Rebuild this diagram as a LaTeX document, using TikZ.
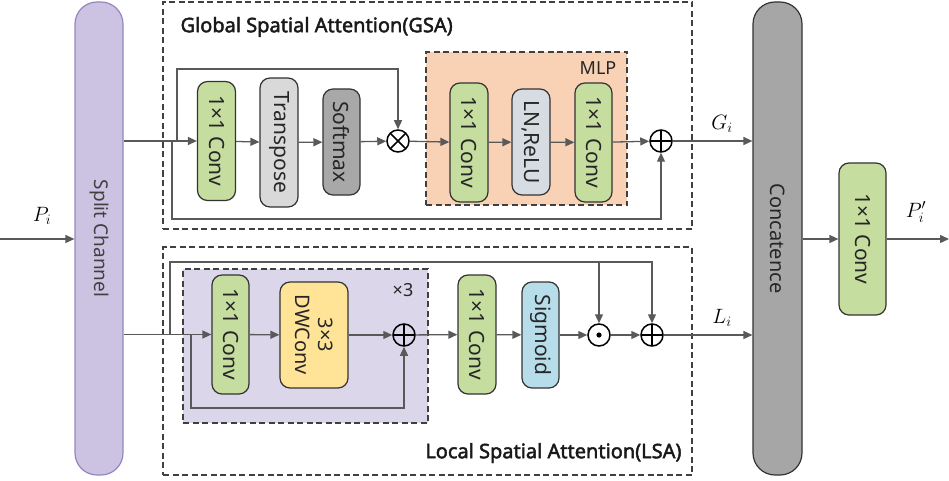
\documentclass[tikz,border=0pt]{standalone}
\usepackage{fontspec}
\setmainfont{Noto Sans}[AutoFakeBold=2.2]
\usetikzlibrary{arrows.meta}
\definecolor{linec}{HTML}{595959}
\definecolor{edgec}{HTML}{333333}
\definecolor{convg}{HTML}{C6DDA0}
\definecolor{splitp}{HTML}{CCC2E2}
\definecolor{splitb}{HTML}{9686BF}
\definecolor{concg}{HTML}{A6A6A6}
\definecolor{transg}{HTML}{D9D9D9}
\definecolor{softg}{HTML}{A8A8A8}
\definecolor{lnrelu}{HTML}{D7DCE3}
\definecolor{mlpbg}{HTML}{F9D2B5}
\definecolor{repbg}{HTML}{DCD6EA}
\definecolor{dwy}{HTML}{FFE498}
\definecolor{sigb}{HTML}{B8DDEA}
\begin{document}
\begin{tikzpicture}[x=1pt,y=-1pt,
  arr/.style={draw=linec, line width=1.3pt, -{Triangle[length=9pt,width=8pt]}},
  wire/.style={draw=linec, line width=1.3pt},
  blk/.style={rotate=-90, draw=edgec, line width=1.2pt, rounded corners=10pt,
    inner sep=0pt, align=center, text=black!85, font=\fontsize{21}{24}\selectfont},
  conv/.style={blk, fill=convg, minimum width=119pt, minimum height=38pt},
  frame/.style={draw=black!75, line width=1.1pt, dash pattern=on 6pt off 3.5pt,
    inner sep=0pt},
  opc/.style={circle, draw=black, line width=1.5pt, minimum size=22pt, inner sep=0pt},
  oplus/.style={opc, path picture={\draw[line width=1.5pt]
    (path picture bounding box.north) -- (path picture bounding box.south)
    (path picture bounding box.west) -- (path picture bounding box.east);}},
  otimes/.style={opc, path picture={\draw[line width=1.5pt]
    (path picture bounding box.center) +(45:12pt) -- +(225:12pt)
    (path picture bounding box.center) +(135:12pt) -- +(315:12pt);}},
  odot/.style={opc, path picture={\fill
    (path picture bounding box.center) circle (2.6pt);}},
  mathlbl/.style={font=\fontsize{21}{23}\selectfont},
  title/.style={font=\bfseries\fontsize{20}{22}\selectfont, text=black!90},
]
\useasboundingbox (0,0) rectangle (949,481);

% dashed group frames and shaded sub-blocks
\node[frame, minimum width=529pt, minimum height=227pt] (gsa) at (427.5,115.5) {};
\node[frame, minimum width=529pt, minimum height=228pt] (lsa) at (427.5,361) {};
\node[frame, fill=mlpbg, minimum width=201pt, minimum height=153pt] (mlp) at (526.5,128.5) {};
\node[frame, fill=repbg, minimum width=245pt, minimum height=154pt] (rep) at (305.5,346) {};

\node[title, anchor=west] (gsat) at (177,27) {Global Spatial Attention(GSA)};
\node[title, anchor=east] (lsat) at (685,453) {Local Spatial Attention(LSA)};
\node[font=\fontsize{18}{20}\selectfont, text=black!85] (mlpt) at (598,68) {MLP};
\node[font=\fontsize{18}{20}\selectfont, text=black!85] (rept) at (403,290) {×3};

% big split / concat columns
\node[rotate=-90, fill=splitp, draw=splitb, line width=1.2pt, rounded corners=22pt,
  minimum width=473pt, minimum height=48pt, inner sep=0pt, text=black!75,
  font=\fontsize{19}{22}\selectfont] (split) at (99,238.5) {Split Channel};
\node[rotate=-90, fill=concg, draw=edgec, line width=1.2pt, rounded corners=22pt,
  minimum width=473pt, minimum height=49pt, inner sep=0pt, text=black!85,
  font=\fontsize{20}{22}\selectfont] (concat) at (777.5,238.5) {Concatence};

% global branch
\node[conv] (g1) at (216.5,141) {1×1 Conv};
\node[blk, fill=transg, minimum width=129pt, minimum height=38pt] (tr) at (279,142.5) {Transpose};
\node[blk, fill=softg, minimum width=106pt, minimum height=37pt] (sm) at (341.5,142) {Softmax};
\node[otimes] (mul) at (398,141) {};
\node[conv] (m1) at (469,142.5) {1×1 Conv};
\node[blk, fill=lnrelu, minimum width=106pt, minimum height=38pt] (lnr) at (531,142) {LN,ReLU};
\node[conv, minimum height=37pt] (m2) at (593.5,142.5) {1×1 Conv};
\node[oplus] (addg) at (661,141) {};

% local branch
\node[conv, minimum height=37pt] (l1) at (230.5,334.5) {1×1 Conv};
\node[blk, fill=dwy, minimum width=106pt, minimum height=68pt,
  font=\fontsize{20}{23}\selectfont] (dw) at (314,335) {3×3\\DWConv};
\node[oplus] (addr) at (404,335) {};
\node[conv] (l2) at (477,334.5) {1×1 Conv};
\node[blk, fill=sigb, minimum width=106pt, minimum height=37pt] (sg) at (540.5,335) {Sigmoid};
\node[odot] (mulm) at (599,335) {};
\node[oplus] (addl) at (652,335) {};

% output head
\node[conv, minimum width=152pt, minimum height=47pt] (oc) at (862.5,239) {1×1 Conv};

% labels
\node[mathlbl] (pl) at (42,216) {$P_i$};
\node[mathlbl] (gl) at (722,124) {$G_i$};
\node[mathlbl] (ll) at (722,318) {$L_i$};
\node[mathlbl] (pol) at (916,212) {$P_i^{\prime}$};

% junction points
\coordinate (pin) at (0,239);
\coordinate (pout) at (949,239);
\coordinate (jgd) at (172,141);
\coordinate (jgu) at (177,141);
\coordinate (jgu2) at (177,69);
\coordinate (jgd2) at (172,219);
\coordinate (jlo) at (170,335);
\coordinate (jlo2) at (170,262);
\coordinate (jri) at (191,335);
\coordinate (jri2) at (191,408);

% connectors: input and outputs
\draw[arr] (pin) -- (pin -| split.south);
\draw[arr] (g1 -| split.north) -- (g1);
\draw[arr] (l1 -| split.north) -- (l1);
\draw[arr] (addg) -- (addg -| concat.south);
\draw[arr] (addl) -- (addl -| concat.south);
\draw[arr] (oc -| concat.north) -- (oc);
\draw[arr] (oc) -- (pout);

% global chain
\draw[arr] (g1) -- (tr);
\draw[arr] (tr) -- (sm);
\draw[arr] (sm) -- (mul);
\draw[arr] (mul) -- (m1);
\draw[arr] (m1) -- (lnr);
\draw[arr] (lnr) -- (m2);
\draw[arr] (m2) -- (addg);
\draw[arr] (jgu) -- (jgu2) -| (mul);
\draw[arr] (jgd) -- (jgd2) -| (addg);

% local chain
\draw[arr] (l1) -- (dw);
\draw[arr] (dw) -- (addr);
\draw[arr] (addr) -- (l2);
\draw[arr] (l2) -- (sg);
\draw[arr] (sg) -- (mulm);
\draw[arr] (mulm) -- (addl);
\draw[arr] (jri) -- (jri2) -| (addr);
\draw[arr] (jlo) -- (jlo2) -| (addl);
\draw[arr] (jlo2 -| mulm) -- (mulm);
\end{tikzpicture}
\end{document}
